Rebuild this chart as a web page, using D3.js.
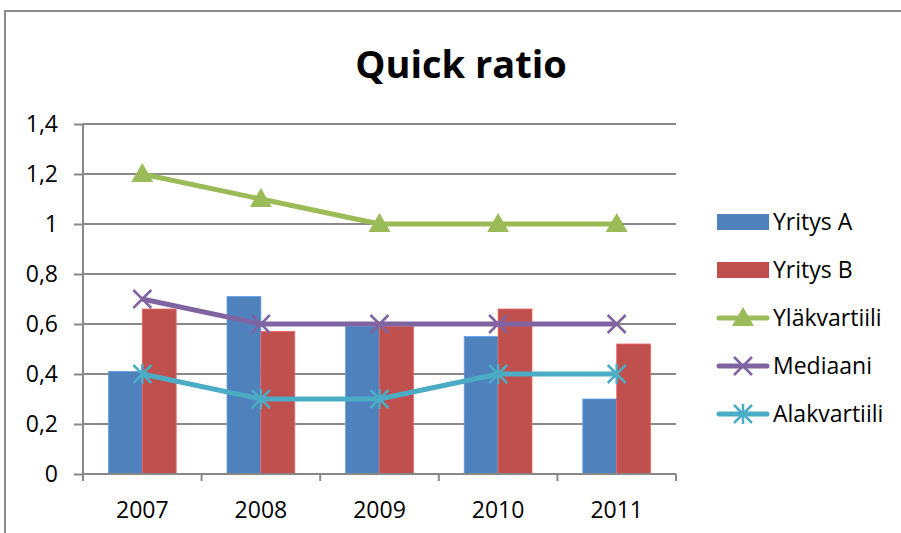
<!DOCTYPE html>
<html>
<head>
<meta charset="utf-8">
<script src="https://cdn.jsdelivr.net/npm/d3@7"></script>
<style>
  body { margin: 0; background: #fff; }
  text { font-family: "Open Sans", "Lato", sans-serif; fill: #000; }
</style>
</head>
<body>
<div id="chart-area"></div>
<script>
var years = ["2007", "2008", "2009", "2010", "2011"];
var yritysA = [0.41, 0.71, 0.59, 0.55, 0.30];
var yritysB = [0.66, 0.57, 0.59, 0.66, 0.52];
var ylakvartiili = [1.2, 1.1, 1.0, 1.0, 1.0];
var mediaani = [0.7, 0.6, 0.6, 0.6, 0.6];
var alakvartiili = [0.4, 0.3, 0.3, 0.4, 0.4];
var yTicks = [0, 0.2, 0.4, 0.6, 0.8, 1, 1.2, 1.4];

var barSeries = [
    { name: "Yritys A", values: yritysA, color: "#4F81BD" },
    { name: "Yritys B", values: yritysB, color: "#C0504D" }
];
var lineSeries = [
    { name: "Yläkvartiili", values: ylakvartiili, color: "#9BBB59", marker: "triangle" },
    { name: "Mediaani", values: mediaani, color: "#8064A2", marker: "x" },
    { name: "Alakvartiili", values: alakvartiili, color: "#4BACC6", marker: "star" }
];

var W = 901, H = 533;
var svg = d3.select("#chart-area").append("svg")
    .attr("width", W)
    .attr("height", H);

// outer chart frame (cropped)
svg.append("path")
    .attr("d", "M5," + H + "V11H" + W)
    .attr("fill", "none")
    .attr("stroke", "#8c8c8c")
    .attr("stroke-width", 2);

svg.append("text")
    .attr("x", 461)
    .attr("y", 78)
    .attr("text-anchor", "middle")
    .attr("font-size", "38px")
    .attr("font-weight", "bold")
    .text("Quick ratio");

var x = d3.scaleBand()
    .domain(years)
    .range([83, 676]);

var y = d3.scaleLinear()
    .domain([0, 1.4])
    .range([474, 124]);

var groupW = x.bandwidth() / 1.75;
var xInner = d3.scaleBand()
    .domain(barSeries.map(function(d) { return d.name; }))
    .range([0, groupW]);

var fmt = function(d) { return d3.format("")(+d.toFixed(1)).replace(".", ","); };

// gridlines
svg.append("g")
    .selectAll("line")
    .data(yTicks)
    .enter().append("line")
        .attr("x1", 83)
        .attr("x2", 676)
        .attr("y1", function(d) { return y(d); })
        .attr("y2", function(d) { return y(d); })
        .attr("stroke", "#888")
        .attr("stroke-width", 2);

// bars
barSeries.forEach(function(s) {
    svg.append("g")
        .selectAll("rect")
        .data(s.values)
        .enter().append("rect")
            .attr("x", function(d, i) { return x(years[i]) + (x.bandwidth() - groupW) / 2 + xInner(s.name); })
            .attr("y", function(d) { return y(d); })
            .attr("width", xInner.bandwidth())
            .attr("height", function(d) { return y(0) - y(d); })
            .attr("fill", s.color)
            .attr("stroke", d3.color(s.color).brighter(0.6))
            .attr("stroke-width", 0.8);
});

// axes
var leftAxis = d3.axisLeft(y)
    .tickValues(yTicks)
    .tickSize(9)
    .tickPadding(16)
    .tickFormat(fmt);

var gy = svg.append("g")
    .attr("transform", "translate(83,0)")
    .call(leftAxis);
gy.select(".domain").attr("stroke", "#888").attr("stroke-width", 2).attr("d", "M0,124V474");
gy.selectAll(".tick line").attr("stroke", "#888").attr("stroke-width", 2);
gy.selectAll("text").attr("font-size", "23px").attr("fill", "#000");

var gx = svg.append("g")
    .attr("transform", "translate(0,474)");
gx.append("line")
    .attr("x1", 83).attr("x2", 676)
    .attr("stroke", "#888").attr("stroke-width", 2);
gx.selectAll("line.tk")
    .data(years.concat(["end"]))
    .enter().append("line")
        .attr("class", "tk")
        .attr("x1", function(d, i) { return i < years.length ? x(d) : x.range()[1]; })
        .attr("x2", function(d, i) { return i < years.length ? x(d) : x.range()[1]; })
        .attr("y1", 0)
        .attr("y2", 7)
        .attr("stroke", "#888")
        .attr("stroke-width", 2);
gx.selectAll("text")
    .data(years)
    .enter().append("text")
        .attr("x", function(d) { return x(d) + x.bandwidth() / 2; })
        .attr("y", 44)
        .attr("text-anchor", "middle")
        .attr("font-size", "23px")
        .text(function(d) { return d; });

// markers
function drawMarker(g, type, color) {
    if (type === "triangle") {
        g.append("path")
            .attr("d", "M0,-11L11,8L-11,8Z")
            .attr("fill", color);
    } else {
        var r = 9;
        g.append("path")
            .attr("d", "M" + (-r) + "," + (-r) + "L" + r + "," + r + "M" + (-r) + "," + r + "L" + r + "," + (-r) +
                (type === "star" ? "M0," + (-r - 1) + "V" + (r + 1) : ""))
            .attr("stroke", color)
            .attr("stroke-width", 2.5)
            .attr("fill", "none");
    }
}

var cx = function(i) { return x(years[i]) + x.bandwidth() / 2; };

lineSeries.forEach(function(s) {
    var line = d3.line()
        .x(function(d, i) { return cx(i); })
        .y(function(d) { return y(d); });
    svg.append("path")
        .datum(s.values)
        .attr("d", line)
        .attr("fill", "none")
        .attr("stroke", s.color)
        .attr("stroke-width", 5)
        .attr("stroke-linejoin", "round");
    s.values.forEach(function(v, i) {
        var g = svg.append("g").attr("transform", "translate(" + cx(i) + "," + y(v) + ")");
        drawMarker(g, s.marker, s.color);
    });
});

// legend
var legend = svg.append("g").attr("transform", "translate(717,222)");
var items = barSeries.concat(lineSeries);
items.forEach(function(s, i) {
    var g = legend.append("g").attr("transform", "translate(0," + (i * 48) + ")");
    if (!s.marker) {
        g.append("rect")
            .attr("x", 0).attr("y", -8)
            .attr("width", 52).attr("height", 16)
            .attr("fill", s.color);
    } else {
        g.append("line")
            .attr("x1", 2).attr("x2", 50)
            .attr("stroke", s.color)
            .attr("stroke-width", 5)
            .attr("stroke-linecap", "round");
        var m = g.append("g").attr("transform", "translate(26,0)");
        drawMarker(m, s.marker, s.color);
    }
    g.append("text")
        .attr("x", 56)
        .attr("y", 8)
        .attr("font-size", "23px")
        .text(s.name);
});
</script>
</body>
</html>
